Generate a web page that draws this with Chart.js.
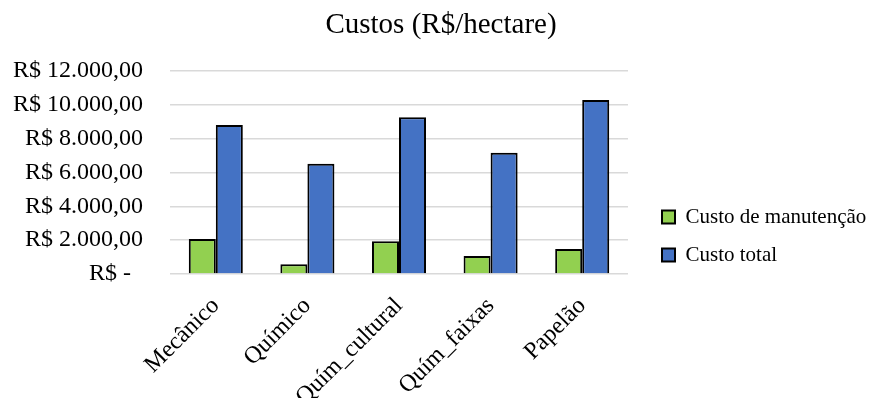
<!DOCTYPE html>
<html>
<head>
<meta charset="utf-8">
<script src="https://cdn.jsdelivr.net/npm/chart.js@4.4.1/dist/chart.umd.min.js"></script>
<style>
  html, body { margin: 0; padding: 0; background: #fff; }
  #wrap { width: 870px; height: 398px; }
</style>
</head>
<body>
<div id="wrap"><canvas id="custosChart"></canvas></div>
<script>
// Chart data
const categories = ["Mecânico", "Químico", "Quím_cultural", "Quím_faixas", "Papelão"]
const custoManutencao = [2060, 570, 1940, 1060, 1470]
const custoTotal = [8800, 6510, 9250, 7160, 10270]
const yTickLabels = ["R$ -  ", "R$ 2.000,00", "R$ 4.000,00", "R$ 6.000,00", "R$ 8.000,00", "R$ 10.000,00", "R$ 12.000,00"]

const serif = "'Liberation Serif', 'Times New Roman', serif"

// Give the right-hand legend a fixed width and nudge its items like Excel does
const legendPlacement = {
  id: "legendPlacement",
  afterInit: (chart) => {
    const legend = chart.legend
    const fit = legend.fit
    legend.fit = function () {
      fit.call(this)
      this.width = 242
    }
  },
  afterLayout: (chart) => {
    const legend = chart.legend
    legend.left += 17
    legend.right += 17
    legend.top += 37
    legend.bottom += 37
  },
}

const chartEl = document.getElementById("custosChart")
const chart = new Chart(chartEl, {
  type: "bar",
  data: {
    labels: categories,
    datasets: [
      {
        label: "Custo de manutenção",
        data: custoManutencao,
        backgroundColor: "#92D050",
        borderColor: "#000",
        borderWidth: 2,
        categoryPercentage: 0.59,
        barPercentage: 1,
      },
      {
        label: "Custo total",
        data: custoTotal,
        backgroundColor: "#4472C4",
        borderColor: "#000",
        borderWidth: 2,
        categoryPercentage: 0.59,
        barPercentage: 1,
      },
    ],
  },
  options: {
    responsive: true,
    maintainAspectRatio: false,
    animation: false,
    layout: {
      padding: { left: 12, right: 0, top: 0, bottom: 0 },
    },
    plugins: {
      title: {
        display: true,
        text: "Custos (R$/hectare)",
        color: "#000",
        font: { family: serif, size: 29, weight: "normal" },
        padding: { top: 8, bottom: 28 },
      },
      legend: {
        position: "right",
        labels: {
          color: "#000",
          font: { family: serif, size: 21 },
          boxWidth: 13,
          boxHeight: 13,
          padding: 17,
        },
      },
      tooltip: { enabled: false },
    },
    scales: {
      x: {
        grid: { display: false },
        border: { display: false },
        ticks: {
          color: "#000",
          font: { family: serif, size: 24 },
          minRotation: 45,
          maxRotation: 45,
          padding: 10,
        },
        afterFit: (scale) => {
          scale.height = 124
        },
      },
      y: {
        min: 0,
        max: 12000,
        border: { display: false },
        grid: {
          color: "#d9d9d9",
          lineWidth: 1.5,
          drawTicks: false,
        },
        ticks: {
          stepSize: 2000,
          color: "#000",
          font: { family: serif, size: 24 },
          padding: 27,
          callback: (value, index) => yTickLabels[index],
        },
        afterFit: (scale) => {
          scale.width = 158
        },
      },
    },
  },
  plugins: [legendPlacement],
})
</script>
</body>
</html>
